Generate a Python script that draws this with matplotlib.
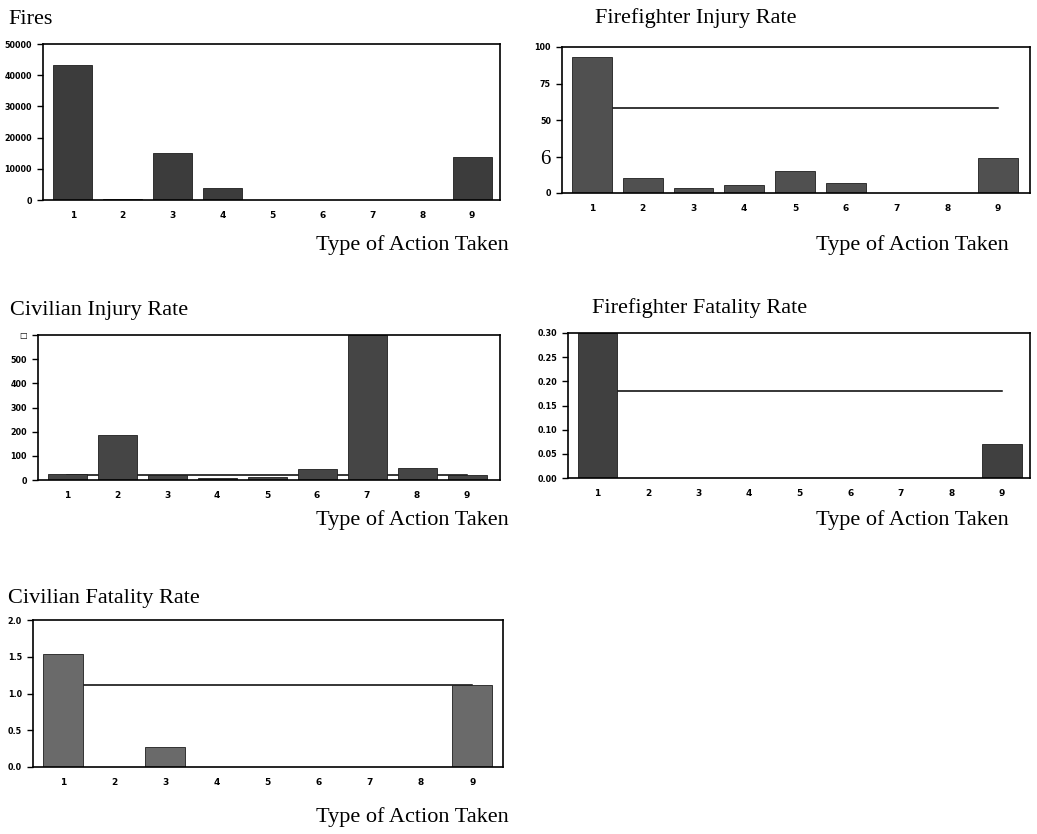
import matplotlib
matplotlib.use("Agg")
import matplotlib.pyplot as plt


# figure size in pixels
W = 1037
H = 834

# categories (type of action taken)
actions = [1, 2, 3, 4, 5, 6, 7, 8, 9]

# series values
fires = [43400, 200, 15000, 3900, 150, 100, 100, 100, 13800]
ff_injury = [93, 10.2, 3.4, 5.2, 14.8, 6.8, 0, 0, 23.9]
ff_injury_avg = 58
civ_injury = [25, 186, 21, 8, 12, 44, 600, 51, 22]
civ_injury_avg = 22
ff_fatal = [0.30, 0, 0, 0, 0, 0, 0, 0, 0.07]
ff_fatal_avg = 0.18
civ_fatal = [1.54, 0, 0.27, 0, 0, 0, 0, 0, 1.12]
civ_fatal_avg = 1.12

# y ticks and their labels
fires_ticks = [0, 10000, 20000, 30000, 40000, 50000]
fires_labels = ["0", "10000", "20000", "30000", "40000", "50000"]
ffi_ticks = [0, 25, 50, 75, 100]
ffi_labels = ["0", "6", "50", "75", "100"]
civi_ticks = [0, 100, 200, 300, 400, 500, 600]
civi_labels = ["0", "100", "200", "300", "400", "500", "\u25a1"]
fff_ticks = [0, 0.05, 0.10, 0.15, 0.20, 0.25, 0.30]
fff_labels = ["0.00", "0.05", "0.10", "0.15", "0.20", "0.25", "0.30"]
civf_ticks = [0, 0.5, 1.0, 1.5, 2.0]
civf_labels = ["0.0", "0.5", "1.0", "1.5", "2.0"]

SERIF = "Liberation Serif"


def box(l, t, r, b):
    # pixel box -> figure fraction rect
    return [l / W, 1 - b / H, (r - l) / W, (b - t) / H]


def panel(fig, rect, values, ticks, labels, ylim, title, title_xy, xlabel_xy,
          avg=None, color="#454545", xlim=(0.41, 9.6)):
    ax = fig.add_axes(rect)
    if avg is not None:
        ax.plot([1, 9], [avg, avg], color="black", lw=1.1, zorder=1)
    ax.bar(actions, values, width=0.78, color=color, edgecolor="#1e1e1e",
           linewidth=0.6, zorder=2)
    ax.set_xlim(*xlim)
    ax.set_ylim(*ylim)
    ax.set_xticks(actions)
    ax.set_xticklabels([str(a) for a in actions])
    ax.set_yticks(ticks)
    ax.set_yticklabels(labels)
    ax.tick_params(axis="x", length=0, pad=8)
    ax.tick_params(axis="y", length=4, width=1, pad=4, direction="out")
    for lab in ax.get_xticklabels():
        lab.set_fontsize(6.5)
        lab.set_fontweight("bold")
    for lab in ax.get_yticklabels():
        lab.set_fontsize(5.8)
        lab.set_fontweight("bold")
    for s in ax.spines.values():
        s.set_linewidth(1.2)
    fig.text(title_xy[0] / W, 1 - title_xy[1] / H, title, family=SERIF,
             fontsize=16, ha="left", va="center")
    fig.text(xlabel_xy[0] / W, 1 - xlabel_xy[1] / H, "Type of Action Taken",
             family=SERIF, fontsize=16, ha="center", va="center")
    return ax


fig = plt.figure(figsize=(W / 100, H / 100), dpi=100)

panel(fig, box(43, 44, 500, 200), fires, fires_ticks, fires_labels, (0, 50000),
      "Fires", (8, 20), (412, 245), color="#3c3c3c", xlim=(0.40, 9.56))

ax_b = panel(fig, box(562, 47, 1030, 193), ff_injury, ffi_ticks, ffi_labels, (0, 100),
             "Firefighter Injury Rate", (595, 18), (912, 245), avg=ff_injury_avg,
             color="#505050", xlim=(0.41, 9.63))
# the scanned "25" label came out as a large serif 6
for lab in ax_b.get_yticklabels():
    if lab.get_text() == "6":
        lab.set_fontsize(15)
        lab.set_fontweight("normal")
        lab.set_family(SERIF)

panel(fig, box(38, 335, 500, 480), civ_injury, civi_ticks, civi_labels, (0, 600),
      "Civilian Injury Rate", (10, 310), (412, 520), avg=civ_injury_avg,
      color="#454545", xlim=(0.42, 9.66))

panel(fig, box(568, 333, 1030, 478), ff_fatal, fff_ticks, fff_labels, (0, 0.30),
      "Firefighter Fatality Rate", (592, 308), (912, 520), avg=ff_fatal_avg,
      color="#404040", xlim=(0.42, 9.55))

panel(fig, box(33, 620, 503, 767), civ_fatal, civf_ticks, civf_labels, (0, 2.0),
      "Civilian Fatality Rate", (8, 598), (412, 817), avg=civ_fatal_avg,
      color="#6a6a6a", xlim=(0.42, 9.6))

fig.savefig("out.png", dpi=100)
